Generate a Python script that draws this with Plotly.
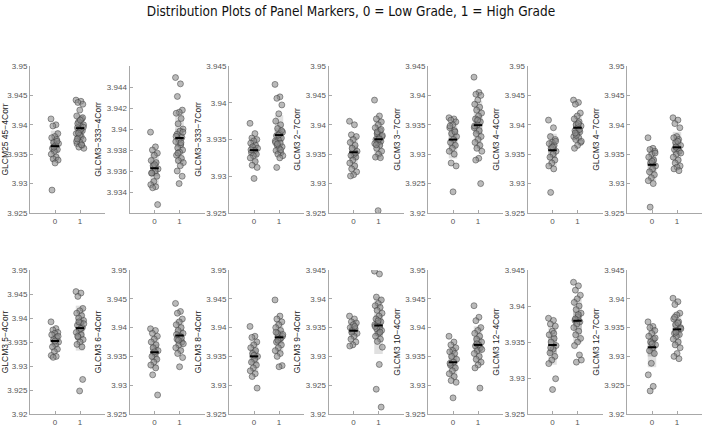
import numpy as np
import plotly.graph_objects as go

# panel marker names (y-axis titles), row by row
markers = [
    "GLCM25 45−4Corr", "GLCM3−333−4Corr", "GLCM3−333−7Corr", "GLCM3 2−7Corr",
    "GLCM3 3−7Corr", "GLCM3 4−4Corr", "GLCM3 4−7Corr",
    "GLCM3 5−4Corr", "GLCM3 6−4Corr", "GLCM3 8−4Corr", "GLCM3 9−4Corr",
    "GLCM3 10−4Corr", "GLCM3 12−4Corr", "GLCM3 12−7Corr",
]

# group 0 = low grade
low_grade = [
    [3.941, 3.940, 3.9398, 3.9385, 3.938, 3.9378, 3.9375, 3.937, 3.9368, 3.9365, 3.936,
     3.9358, 3.9355, 3.935, 3.9345, 3.9342, 3.934, 3.9335, 3.9289, 3.9372, 3.9362],
    [3.9397, 3.9383, 3.938, 3.9377, 3.9375, 3.937, 3.9368, 3.9365, 3.9362, 3.936, 3.9358,
     3.9355, 3.935, 3.9347, 3.9345, 3.9344, 3.9328, 3.9366, 3.9358],
    [3.9372, 3.9358, 3.9352, 3.935, 3.9348, 3.9345, 3.9342, 3.934, 3.9338, 3.9335, 3.9332,
     3.933, 3.9328, 3.9325, 3.932, 3.9315, 3.9312, 3.9297, 3.9336],
    [3.9406, 3.940, 3.9383, 3.938, 3.9375, 3.937, 3.9365, 3.936, 3.9355, 3.935, 3.9348,
     3.9345, 3.934, 3.9335, 3.933, 3.9325, 3.932, 3.9315, 3.9313, 3.9352],
    [3.9362, 3.936, 3.9358, 3.9355, 3.935, 3.9345, 3.934, 3.9335, 3.933, 3.9325, 3.932,
     3.9315, 3.931, 3.9305, 3.930, 3.9285, 3.928, 3.9236, 3.9348, 3.9338],
    [3.9408, 3.9395, 3.938, 3.9375, 3.937, 3.9368, 3.9365, 3.936, 3.9355, 3.935, 3.9345,
     3.934, 3.9335, 3.933, 3.9325, 3.9285, 3.9372, 3.9362],
    [3.9378, 3.936, 3.9358, 3.9355, 3.935, 3.9345, 3.934, 3.9335, 3.933, 3.9325, 3.932,
     3.9315, 3.931, 3.9305, 3.930, 3.926, 3.9352, 3.9338],
    [3.9392, 3.9378, 3.9375, 3.937, 3.9368, 3.9365, 3.936, 3.9355, 3.935, 3.9345, 3.934,
     3.9335, 3.933, 3.9322, 3.932, 3.9318, 3.9362, 3.9352],
    [3.9398, 3.9395, 3.939, 3.9385, 3.938, 3.9375, 3.937, 3.9365, 3.936, 3.9355, 3.935,
     3.9345, 3.934, 3.9335, 3.933, 3.9318, 3.9283, 3.9358],
    [3.9402, 3.9385, 3.9383, 3.9375, 3.937, 3.9365, 3.936, 3.9355, 3.935, 3.9345, 3.934,
     3.9335, 3.933, 3.9325, 3.932, 3.9315, 3.9295, 3.9352],
    [3.937, 3.9365, 3.936, 3.9358, 3.9355, 3.935, 3.9348, 3.9345, 3.934, 3.9335, 3.933,
     3.9325, 3.932, 3.9318, 3.9352, 3.9342],
    [3.9385, 3.9375, 3.937, 3.9365, 3.936, 3.9358, 3.9355, 3.935, 3.9345, 3.934, 3.9335,
     3.933, 3.9325, 3.932, 3.9315, 3.9308, 3.9305, 3.9278, 3.9338],
    [3.9383, 3.938, 3.9375, 3.9372, 3.9365, 3.936, 3.9355, 3.935, 3.9345, 3.934, 3.9335,
     3.933, 3.9325, 3.932, 3.9362, 3.9342, 3.9299, 3.9284],
    [3.936, 3.9352, 3.935, 3.9345, 3.934, 3.9335, 3.933, 3.9325, 3.932, 3.9315, 3.931,
     3.9305, 3.9288, 3.9268, 3.9248, 3.924, 3.9332, 3.9322],
]

# group 1 = high grade
high_grade = [
    [3.9442, 3.9440, 3.9438, 3.9435, 3.9425, 3.9415, 3.941, 3.9405, 3.940, 3.9398, 3.9395,
     3.939, 3.9388, 3.9385, 3.938, 3.9378, 3.9375, 3.937, 3.9368, 3.9365, 3.9362, 3.936,
     3.9392, 3.9402, 3.9412, 3.9382, 3.9372, 3.9366, 3.9386, 3.9396, 3.9408, 3.9376],
    [3.9449, 3.9443, 3.9431, 3.9418, 3.9416, 3.9415, 3.941, 3.9405, 3.940, 3.9398, 3.9395,
     3.9392, 3.939, 3.9388, 3.9385, 3.9382, 3.938, 3.9378, 3.9375, 3.9372, 3.937, 3.9368,
     3.9365, 3.936, 3.9355, 3.9348, 3.9393, 3.9387, 3.9377, 3.9397],
    [3.9425, 3.9408, 3.9406, 3.9397, 3.9385, 3.9375, 3.937, 3.9365, 3.936, 3.9358, 3.9355,
     3.9352, 3.935, 3.9348, 3.9345, 3.9342, 3.934, 3.9338, 3.9335, 3.9332, 3.933, 3.9328,
     3.9325, 3.9312, 3.9362, 3.9356, 3.9346, 3.9336, 3.9344],
    [3.9442, 3.9415, 3.941, 3.9405, 3.940, 3.9395, 3.939, 3.9385, 3.938, 3.9378, 3.9375,
     3.9372, 3.937, 3.9368, 3.9365, 3.936, 3.9355, 3.935, 3.9345, 3.9344, 3.9388, 3.9382,
     3.9376, 3.9366, 3.9392, 3.9254],
    [3.9431, 3.9405, 3.9402, 3.940, 3.9392, 3.9385, 3.938, 3.9375, 3.937, 3.9365, 3.936,
     3.9355, 3.935, 3.9345, 3.934, 3.9335, 3.933, 3.9325, 3.932, 3.9315, 3.931, 3.9305,
     3.9293, 3.929, 3.925, 3.9358, 3.9348],
    [3.9442, 3.9438, 3.9435, 3.942, 3.9415, 3.941, 3.9405, 3.940, 3.9398, 3.9395, 3.939,
     3.9388, 3.9385, 3.938, 3.9378, 3.9375, 3.937, 3.9365, 3.936, 3.9392, 3.9382, 3.9372,
     3.9402, 3.9386],
    [3.9412, 3.9408, 3.9402, 3.9395, 3.938, 3.9378, 3.9375, 3.937, 3.9365, 3.936, 3.9358,
     3.9355, 3.935, 3.9345, 3.934, 3.9335, 3.933, 3.9328, 3.9325, 3.9322, 3.9362, 3.9352,
     3.9372],
    [3.9455, 3.9452, 3.9445, 3.942, 3.9415, 3.941, 3.9405, 3.940, 3.9395, 3.939, 3.9385,
     3.938, 3.9375, 3.937, 3.9365, 3.936, 3.9355, 3.935, 3.9345, 3.934, 3.9392, 3.9388,
     3.9378, 3.9362, 3.9272, 3.9248],
    [3.9442, 3.9428, 3.9425, 3.9415, 3.941, 3.9405, 3.940, 3.9395, 3.939, 3.9385, 3.938,
     3.9375, 3.937, 3.9365, 3.936, 3.9355, 3.9348, 3.9332, 3.9388, 3.9382, 3.9378, 3.9372],
    [3.9448, 3.942, 3.9415, 3.941, 3.9405, 3.940, 3.9395, 3.939, 3.9385, 3.938, 3.9375,
     3.937, 3.9365, 3.936, 3.9355, 3.935, 3.9334, 3.9332, 3.9392, 3.9382, 3.9378, 3.9388],
    [3.9448, 3.9443, 3.9403, 3.9398, 3.9392, 3.9388, 3.9385, 3.938, 3.9375, 3.937, 3.9365,
     3.936, 3.9358, 3.9355, 3.935, 3.9348, 3.9345, 3.934, 3.9335, 3.933, 3.9326, 3.9316,
     3.9286, 3.9243, 3.9212, 3.9362, 3.9352, 3.9342],
    [3.9438, 3.9418, 3.9412, 3.940, 3.9395, 3.939, 3.9385, 3.938, 3.9375, 3.937, 3.9368,
     3.9365, 3.936, 3.9355, 3.935, 3.9345, 3.934, 3.9335, 3.933, 3.9295, 3.9372, 3.9362],
    [3.9433, 3.9428, 3.9422, 3.9415, 3.941, 3.9405, 3.940, 3.9395, 3.939, 3.9385, 3.938,
     3.9378, 3.9375, 3.937, 3.9365, 3.936, 3.9355, 3.935, 3.9345, 3.9332, 3.9322, 3.9325,
     3.9388, 3.9382],
    [3.9401, 3.9395, 3.939, 3.9375, 3.9372, 3.9365, 3.936, 3.9355, 3.935, 3.9345, 3.934,
     3.9338, 3.9335, 3.933, 3.9325, 3.932, 3.9315, 3.9305, 3.930, 3.9296, 3.9342, 3.9348,
     3.9358, 3.9368],
]

# y tick values shown on each panel
y_ticks = [
    [3.925, 3.93, 3.935, 3.94, 3.945, 3.95],
    [3.934, 3.936, 3.938, 3.94, 3.942, 3.944],
    [3.925, 3.93, 3.935, 3.94, 3.945],
    [3.925, 3.93, 3.935, 3.94, 3.945, 3.95],
    [3.92, 3.925, 3.93, 3.935, 3.94, 3.945],
    [3.925, 3.93, 3.935, 3.94, 3.945, 3.95],
    [3.925, 3.93, 3.935, 3.94, 3.945, 3.95],
    [3.92, 3.925, 3.93, 3.935, 3.94, 3.945, 3.95],
    [3.925, 3.93, 3.935, 3.94, 3.945, 3.95],
    [3.925, 3.93, 3.935, 3.94, 3.945, 3.95],
    [3.92, 3.925, 3.93, 3.935, 3.94, 3.945],
    [3.925, 3.93, 3.935, 3.94, 3.945, 3.95],
    [3.925, 3.93, 3.935, 3.94, 3.945],
    [3.92, 3.925, 3.93, 3.935, 3.94, 3.945],
]
y_ranges = [[t[0], t[-1]] for t in y_ticks]
y_ranges[1] = [3.932, 3.946]

groups = [0, 1]

W, H = 702, 428
TICK_FONT = dict(family="Liberation Sans, Arial, sans-serif", size=8, color="#555555")
AX_COLOR = "#a8a8a8"
HALF_W = 0.17

fig = go.Figure()
layout = {}
shapes = []

for k in range(len(markers)):
    row, col = divmod(k, 7)
    n = k + 1
    xname = "x" if n == 1 else f"x{n}"
    yname = "y" if n == 1 else f"y{n}"
    left_px = 30 + 99.5 * col
    top_px, bot_px = [(66, 213), (270, 414)][row]

    for g, vals in zip(groups, [low_grade[k], high_grade[k]]):
        v = np.array(vals)
        m = v.mean()
        sd = v.std(ddof=1)
        ci = 1.96 * sd / np.sqrt(len(v))
        shapes.append(dict(type="rect", xref=xname, yref=yname, layer="below",
                           x0=g - HALF_W, x1=g + HALF_W, y0=m - sd, y1=m + sd,
                           fillcolor="#e0e0e0", line=dict(width=0)))
        shapes.append(dict(type="rect", xref=xname, yref=yname, layer="below",
                           x0=g - HALF_W, x1=g + HALF_W, y0=m - ci, y1=m + ci,
                           fillcolor="#bdbdbd", line=dict(width=0)))
        # deterministic jitter around the group position
        jit = np.array([((i * 0.618034) % 1 - 0.5) * 0.32 for i in range(len(v))])
        fig.add_trace(go.Scatter(
            x=g + jit, y=v, mode="markers",
            marker=dict(size=6, color="rgba(140,140,140,0.6)",
                        line=dict(color="rgba(50,50,50,0.8)", width=0.6)),
            xaxis=xname, yaxis=yname, showlegend=False))
        fig.add_trace(go.Scatter(
            x=[g - HALF_W, g + HALF_W], y=[m, m], mode="lines",
            line=dict(color="black", width=2), xaxis=xname, yaxis=yname,
            hoverinfo="skip", showlegend=False))

    xkey = "xaxis" if n == 1 else f"xaxis{n}"
    ykey = "yaxis" if n == 1 else f"yaxis{n}"
    layout[xkey] = dict(
        domain=[left_px / W, (left_px + 75) / W], anchor=yname, range=[-1, 2],
        tickvals=groups, showline=True, linecolor=AX_COLOR, linewidth=1,
        ticks="inside", ticklen=3, tickcolor=AX_COLOR, showgrid=False,
        zeroline=False, tickfont=TICK_FONT, automargin=False)
    layout[ykey] = dict(
        domain=[1 - bot_px / H, 1 - top_px / H], anchor=xname, range=y_ranges[k],
        tickvals=y_ticks[k], showline=True, linecolor=AX_COLOR, linewidth=1,
        ticks="inside", ticklen=3, tickcolor=AX_COLOR, showgrid=False,
        zeroline=False, tickfont=TICK_FONT, automargin=False,
        title=dict(text=markers[k], standoff=3,
                   font=dict(family="Liberation Sans, Arial, sans-serif", size=8.5,
                             color="#222222")))

fig.update_layout(
    **layout,
    shapes=shapes,
    width=W, height=H,
    margin=dict(l=0, r=0, t=0, b=0),
    paper_bgcolor="white", plot_bgcolor="white",
    title=dict(text="Distribution Plots of Panel Markers, 0 = Low Grade, 1 = High Grade",
               x=0.5, xanchor="center", y=1 - 11 / H, yanchor="middle",
               font=dict(family="Liberation Sans Narrow, DejaVu Sans Condensed, sans-serif",
                         size=13.5, color="#111111")),
)

# the page body has a default margin; drop it so the figure sits at the window origin
fig.write_html("out.html", config={"displayModeBar": False},
               post_script="document.body.style.margin = '0px';")
